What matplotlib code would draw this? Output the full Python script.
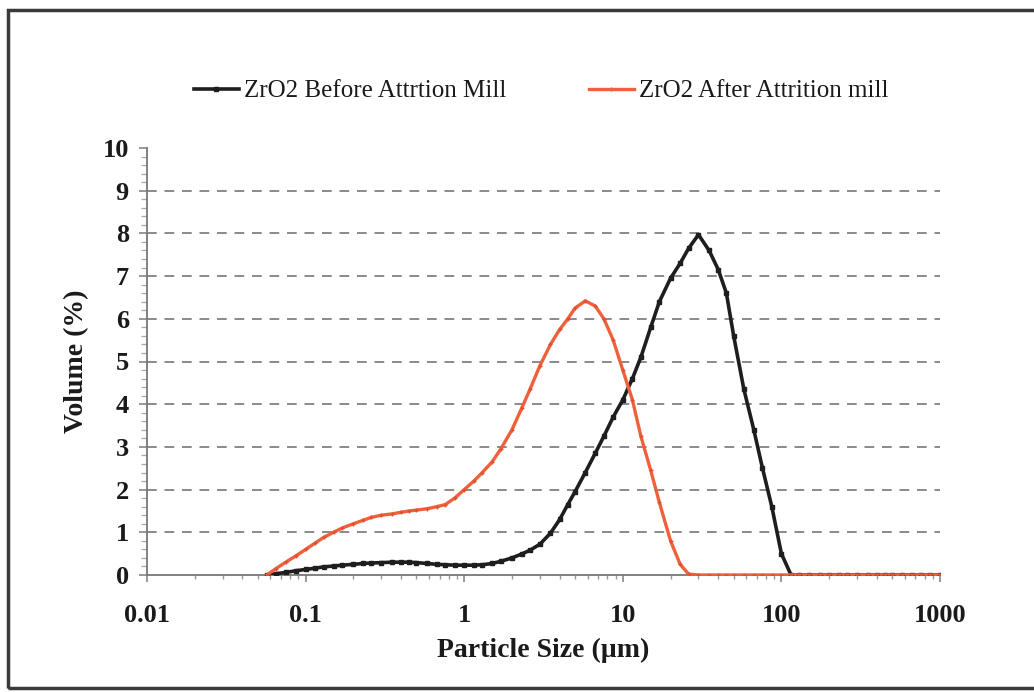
import matplotlib
matplotlib.use("Agg")
import matplotlib.pyplot as plt
from matplotlib.ticker import LogLocator, FixedLocator, NullFormatter, MultipleLocator
from matplotlib.patches import Rectangle
from matplotlib.lines import Line2D

size_um = [0.057, 0.065, 0.075, 0.087, 0.1, 0.115, 0.13, 0.15, 0.17, 0.2, 0.23, 0.26,
           0.3, 0.35, 0.4, 0.45, 0.5, 0.58, 0.67, 0.76, 0.87, 1.0, 1.15, 1.3, 1.5, 1.7,
           2.0, 2.3, 2.6, 3.0, 3.5, 4.0, 4.5, 5.0, 5.8, 6.7, 7.6, 8.7, 10, 11.5, 13, 15,
           17, 20, 23, 26, 30, 35, 40, 45, 50, 58, 67, 76, 87, 100, 115, 130, 150, 175,
           200, 230, 260, 300, 350, 400, 450, 500, 580, 670, 760, 870, 1000]

before_mill = [0.0, 0.03, 0.06, 0.1, 0.13, 0.16, 0.19, 0.21, 0.23, 0.25, 0.27, 0.28,
               0.29, 0.3, 0.3, 0.3, 0.29, 0.27, 0.25, 0.24, 0.23, 0.23, 0.23, 0.24, 0.27, 0.32,
               0.4, 0.49, 0.58, 0.72, 0.98, 1.3, 1.65, 1.95, 2.4, 2.85, 3.25, 3.7, 4.1, 4.6, 5.1, 5.8,
               6.4, 6.95, 7.3, 7.65, 7.97, 7.6, 7.15, 6.6, 5.6, 4.35, 3.4, 2.5, 1.6, 0.5, 0.0, 0.0, 0.0, 0.0,
               0.0, 0.0, 0.0, 0.0, 0.0, 0.0, 0.0, 0.0, 0.0, 0.0, 0.0, 0.0, 0.0]

after_mill = [0.0, 0.15, 0.3, 0.45, 0.6, 0.75, 0.88, 1.0, 1.1, 1.2, 1.28, 1.35,
              1.4, 1.43, 1.47, 1.5, 1.52, 1.55, 1.6, 1.65, 1.8, 2.0, 2.2, 2.4, 2.65, 2.95,
              3.4, 3.9, 4.35, 4.9, 5.4, 5.75, 6.0, 6.25, 6.42, 6.3, 6.0, 5.5, 4.8, 4.1, 3.25, 2.45,
              1.7, 0.8, 0.25, 0.02, 0.0, 0.0, 0.0, 0.0, 0.0, 0.0, 0.0, 0.0, 0.0, 0.0, 0.0, 0.0, 0.0, 0.0,
              0.0, 0.0, 0.0, 0.0, 0.0, 0.0, 0.0, 0.0, 0.0, 0.0, 0.0, 0.0, 0.0]

x_ticks = [0.01, 0.1, 1, 10, 100, 1000]
x_tick_labels = ["0.01", "0.1", "1", "10", "100", "1000"]
y_ticks = list(range(0, 11))

labels = ["ZrO2 Before Attrtion Mill", "ZrO2 After Attrition mill"]

W, H = 1034, 692
fig = plt.figure(figsize=(W / 100, H / 100), dpi=100)
serif = ["Liberation Serif", "DejaVu Serif"]

ax = fig.add_axes([147 / W, 1 - 575 / H, (940 - 147) / W, (575 - 148) / H])

black = "#1e1e1e"
red = "#f0603a"

for v in y_ticks[1:10]:
    ax.axhline(v, color="#8a8a8a", lw=1.4, ls=(0, (5, 4)), zorder=1)

ax.plot(size_um, before_mill, color=black, lw=2.6, marker="s", ms=3.2,
        mfc=black, mec=black, zorder=3, label=labels[0])
ax.plot(size_um, after_mill, color=red, lw=2.4, marker="+", ms=3.5, mew=1,
        mec="#e05030", zorder=4, label=labels[1])

ax.set_xscale("log")
ax.set_xlim(0.01, 1000)
ax.set_ylim(0, 10)
ax.xaxis.set_major_locator(FixedLocator(x_ticks))
ax.set_xticklabels(x_tick_labels)
ax.xaxis.set_minor_locator(LogLocator(base=10, subs=range(2, 10), numticks=20))
ax.xaxis.set_minor_formatter(NullFormatter())
ax.set_yticks(y_ticks)
ax.yaxis.set_minor_locator(MultipleLocator(0.2))

for side in ["top", "right"]:
    ax.spines[side].set_visible(False)
ax.spines["left"].set_color("#777777")
ax.spines["bottom"].set_color("#777777")
ax.spines["left"].set_linewidth(1.3)
ax.spines["bottom"].set_linewidth(1.3)

ax.tick_params(axis="x", which="major", direction="out", length=5, width=1.2, color="#888888", pad=16)
ax.tick_params(axis="x", which="minor", direction="out", length=3, width=1.0, color="#999999")
ax.tick_params(axis="y", which="major", direction="out", length=6, width=1.2, color="#888888", pad=7)
ax.tick_params(axis="y", which="minor", direction="out", length=4, width=0.9, color="#aaaaaa")

for lab in ax.get_xticklabels() + ax.get_yticklabels():
    lab.set_fontfamily(serif)
    lab.set_fontweight("bold")
    lab.set_fontsize(19)
    lab.set_color("#1a1a1a")

ax.set_xlabel("Particle Size (\u00b5m)", fontfamily=serif, fontweight="bold", fontsize=20,
              color="#1a1a1a", labelpad=8)
ax.set_ylabel("Volume (%)", fontfamily=serif, fontweight="bold", fontsize=20,
              color="#1a1a1a", labelpad=10)

handles = [Line2D([], [], color=black, lw=2.6, marker="s", ms=3.2),
           Line2D([], [], color=red, lw=2.4, marker="+", ms=3.5)]
fig.legend(handles, labels, loc="center", bbox_to_anchor=(541 / W, 1 - 91 / H), ncol=2,
           frameon=False, prop={"family": serif, "size": 18}, handlelength=1.8,
           handletextpad=0.2, columnspacing=3.3, labelcolor="#1a1a1a")

# figure border
fig.add_artist(Rectangle((8 / W, 1 - 688 / H), (1040 - 8) / W, (688 - 10) / H,
                         transform=fig.transFigure, fill=False, ec="#3a3a3a", lw=2.5))

fig.savefig("out.png", dpi=100, facecolor="white")
